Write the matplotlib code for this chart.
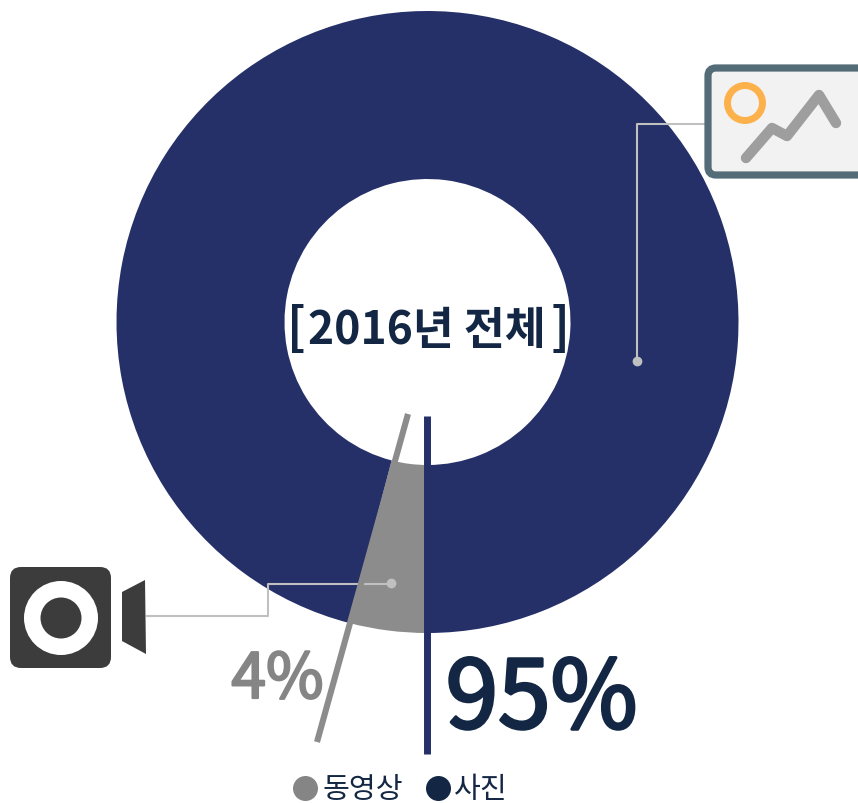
import matplotlib
matplotlib.use('Agg')
import matplotlib.pyplot as plt
import matplotlib.patheffects as pe
from matplotlib.patches import Circle, FancyBboxPatch, Polygon

plt.rcParams['font.family'] = ['Noto Sans CJK KR', 'DejaVu Sans']

# data
categories = ['동영상', '사진']
values = [4, 95]
value_labels = ['4%', '95%']
center_title = '2016년 전체'

BLUE = '#253068'
GRAY = '#8c8c8c'
NAVY = '#132744'
LEADER = '#c0c0c0'
ICON_DARK = '#3c3c3c'
SLATE = '#546b78'

fig = plt.figure(figsize=(8.58, 8.04), dpi=100)
ax = fig.add_axes([0, 0, 1, 1])

# donut, y axis is flipped below so the gray slice runs left from the bottom
ax.pie(values, colors=[GRAY, BLUE], startangle=90, center=(427.5, 323), radius=311,
       wedgeprops={'width': 168, 'linewidth': 0}, frame=False)
ax.set_xlim(0, 858)
ax.set_ylim(804, 0)
ax.set_aspect('equal')
ax.axis('off')

# title, brackets set apart because the source text is tracked tight
ax.text(427, 331, center_title, color=NAVY, fontsize=32, fontweight='bold',
        ha='center', va='center', zorder=5)
ax.text(296, 330, '[', color=NAVY, fontsize=36, fontweight='bold', ha='center', va='center', zorder=5)
ax.text(560, 330, ']', color=NAVY, fontsize=36, fontweight='bold', ha='center', va='center', zorder=5)

# separator lines
ax.plot([426.5, 426.5], [417, 755], color=BLUE, lw=5, solid_capstyle='butt', zorder=4)
ax.plot([408, 317], [415, 743], color=GRAY, lw=4.4, solid_capstyle='butt', zorder=4)

# value labels, regular weight thickened with a stroke
ax.text(277.5, 681, value_labels[0], color='#858585', fontsize=45, ha='center', va='center', zorder=5,
        path_effects=[pe.withStroke(linewidth=1.6, foreground='#858585')])
ax.text(541.5, 702, value_labels[1], color=NAVY, fontsize=68, ha='center', va='center', zorder=5,
        path_effects=[pe.withStroke(linewidth=2.2, foreground=NAVY)])

# leader lines
ax.plot([705, 637, 637], [125, 125, 362], color=LEADER, lw=1.5, zorder=3)
ax.plot([637], [362], 'o', color=LEADER, ms=6, zorder=3)
ax.plot([147, 268, 268, 391], [617, 617, 585, 585], color=LEADER, lw=1.5, zorder=3)
ax.plot([391], [584], 'o', color=LEADER, ms=6, zorder=3)

# photo icon
ax.add_patch(FancyBboxPatch((708, 69), 160, 107, boxstyle='round,pad=0,rounding_size=8',
                            fc='#f2f2f2', ec=SLATE, lw=5.2, zorder=4, clip_on=True))
ax.add_patch(Circle((745, 104), 17.5, fc='none', ec='#fdb14b', lw=5, zorder=5))
ax.plot([746, 772, 787, 819, 836], [159, 129, 137, 96, 124], color='#9e9e9e', lw=7.5,
        solid_capstyle='round', solid_joinstyle='round', zorder=5)

# camera icon
ax.add_patch(FancyBboxPatch((10, 568), 101, 101, boxstyle='round,pad=0,rounding_size=11',
                            fc=ICON_DARK, ec='none', zorder=4))
ax.add_patch(Circle((61, 619), 37, fc='white', ec='none', zorder=5))
ax.add_patch(Circle((61, 619), 20.5, fc=ICON_DARK, ec='none', zorder=6))
ax.add_patch(Polygon([(122, 593), (145, 581), (146, 655), (122, 642)], fc=ICON_DARK, ec='none', zorder=4))

# legend
ax.plot([305], [789], 'o', color='#858585', ms=18, mew=0, zorder=5)
ax.text(322, 790, categories[0], color=NAVY, fontsize=21, ha='left', va='center', zorder=5)
ax.plot([438], [789], 'o', color=NAVY, ms=18, mew=0, zorder=5)
ax.text(454, 790, categories[1], color=NAVY, fontsize=21, ha='left', va='center', zorder=5)

fig.savefig('out.png', dpi=100)
